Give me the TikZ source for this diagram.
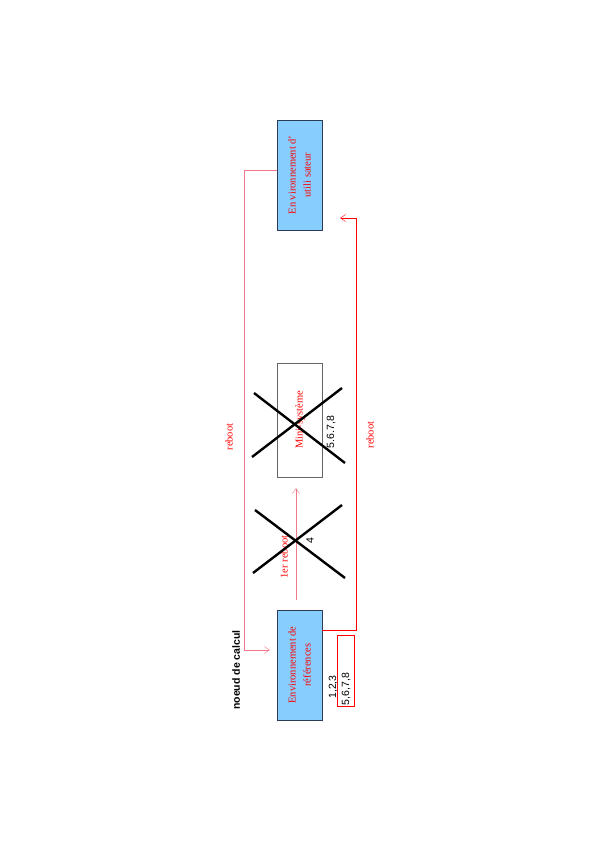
\documentclass[tikz,border=0pt]{standalone}
\usepackage{fontspec}
\setmainfont{Liberation Serif}
\setsansfont{Liberation Sans}
\usetikzlibrary{arrows.meta,positioning,calc}
\definecolor{ltblue}{RGB}{135,206,255}
\definecolor{boxline}{RGB}{45,60,85}
\definecolor{pinkline}{RGB}{240,120,140}
\tikzset{
envbox/.style={draw=boxline, fill=ltblue, rotate=90, minimum width=110pt, minimum height=45pt, align=center, inner sep=1pt, text=red, font=\fontsize{10.5}{15}\selectfont},
emptybox/.style={draw=black!60, rotate=90, minimum width=114pt, minimum height=45pt, text=red, font=\fontsize{10.5}{12}\selectfont},
redlabel/.style={rotate=90, text=red, font=\fontsize{10.5}{12}\selectfont},
steplabel/.style={rotate=90, font=\sffamily\fontsize{10.5}{12}\selectfont},
cross/.style={line width=2.4pt},
arr/.style={-{Straight Barb[length=5pt,width=7pt]}},
}

\begin{document}
\begin{tikzpicture}[x=1pt,y=-1pt]
    \useasboundingbox (0,0) rectangle (595,842);
    % boxes (rotated: north is on the left, west at the bottom)
    \node[envbox] (ref) at (299.5,665) {Environnement de\\r\'ef\'erences};
    \node[envbox] (user) at (299.5,175) {En vironnement d'\\utili sateur};
    \node[emptybox] (mini) at (300,420) {Mini-syst\`eme};
    \node[draw=red, rotate=90, minimum width=71pt, minimum height=17pt] (steps) at (345.5,671) {};
    \node[steplabel] (s123) at (333,687) {1,2,3};
    \node[steplabel] (s5678) at (346,689) {5,6,7,8};
    \node[rotate=90, font=\sffamily\bfseries\fontsize{10.5}{12}\selectfont] (calc) at (236,670) {noeud de calcul};

    % reboot links
    \draw[pinkline, arr] ([yshift=5pt]user.north) -- ++(-33,0) |- ([yshift=15pt,xshift=-7pt]ref.north);
    \node[redlabel] (reboot1) at (229,437) {reboot};
    \draw[red, arr] ([yshift=35pt]ref.south) -- ++(34,0) |- ([shift={(18pt,-43pt)}]user.south);
    \node[redlabel] (reboot2) at (370,435) {reboot};

    % first reboot
    \coordinate (r0) at (296,600);
    \draw[pinkline, arr] (r0) -- ($(r0 |- mini.west)+(0,11)$);
    \node[redlabel] (reboot0) at (284,557) {1er reboot};

    % crossed out steps
    \draw[cross] (255,510) -- (345,578);
    \draw[cross] (253,573) -- (342,505);
    \node[steplabel] (s4) at (310,541) {4};
    \draw[cross] (254,393) -- (345,463);
    \draw[cross] (252,457) -- (342,388);
    \node[steplabel] (s5678b) at (331,432) {5.6.7,8};
\end{tikzpicture}
\end{document}
